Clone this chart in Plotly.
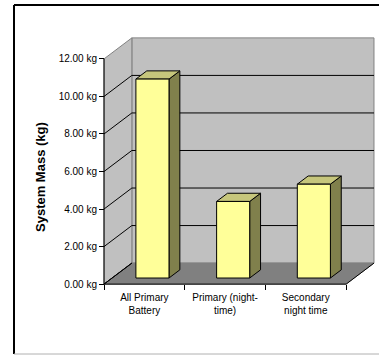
import plotly.graph_objects as go

# ---- data -------------------------------------------------------------
categories = ["All Primary<br>Battery", "Primary (night-<br>time)", "Secondary<br>night time"]
mass_kg = [10.6, 4.08, 5.0]
ytick_vals = [0, 2, 4, 6, 8, 10, 12]
ytick_text = [f"{v:.2f} kg" for v in ytick_vals]

# ---- 3D box geometry (in axis units) ----------------------------------
DX, DY = 0.345, 1.12          # depth of the chart box
BAR_W = 0.41                  # bar width
Z0, Z1 = 0.29, 0.68           # bar front / back as fraction of depth
Y_TOP = ytick_vals[-1]
X0, X1 = -0.5, len(categories) - 0.5

XR = [X0 - 0.025, X1 + DX + 0.025]
YR = [-0.1, Y_TOP + DY + 0.1]

WALL = "#C0C0C0"
WALL_EDGE = "#808080"
FLOOR = "#808080"
BAR_FRONT = "#FFFF99"
BAR_TOP = "#C6C67C"
BAR_SIDE = "#80804C"

FONT = "Liberation Sans, Arial, sans-serif"

W, H = 379, 356
L, R, T, B = 102, 3, 36, 70
PW, PH = W - L - R, H - T - B


def poly(xs, ys, fill, edge, width=1):
    return go.Scatter(x=xs + [xs[0]], y=ys + [ys[0]], mode="lines", fill="toself",
                      fillcolor=fill, line=dict(color=edge, width=width),
                      hoverinfo="skip", showlegend=False)


def seg(xs, ys, color="black", width=1):
    return go.Scatter(x=xs, y=ys, mode="lines", line=dict(color=color, width=width),
                      hoverinfo="skip", showlegend=False)


fig = go.Figure()

# walls and floor
fig.add_trace(poly([X0 + DX, X1 + DX, X1 + DX, X0 + DX], [DY, DY, Y_TOP + DY, Y_TOP + DY], WALL, WALL_EDGE))
fig.add_trace(poly([X0, X0 + DX, X0 + DX, X0], [0, DY, Y_TOP + DY, Y_TOP], WALL, WALL_EDGE))
fig.add_trace(poly([X0, X1, X1 + DX, X0 + DX], [0, 0, DY, DY], FLOOR, FLOOR))

# gridlines on the side and back walls
for v in ytick_vals[:-1]:
    fig.add_trace(seg([X0, X0 + DX], [v, v + DY]))
    if v > 0:
        fig.add_trace(seg([X0 + DX, X1 + DX], [v + DY, v + DY]))

# floor front and right edges, value axis line
fig.add_trace(seg([X0 + DX, X0, X1, X1 + DX], [DY, 0, 0, DY]))
fig.add_trace(seg([X0, X0], [0, Y_TOP]))

# bars
for i, v in enumerate(mass_kg):
    xl, xr = i - BAR_W / 2, i + BAR_W / 2
    fx, fy = Z0 * DX, Z0 * DY
    bx, by = Z1 * DX, Z1 * DY
    fig.add_trace(poly([xr + fx, xr + bx, xr + bx, xr + fx], [fy, by, v + by, v + fy], BAR_SIDE, "black"))
    fig.add_trace(poly([xl + fx, xr + fx, xr + bx, xl + bx], [v + fy, v + fy, v + by, v + by], BAR_TOP, "black"))
    fig.add_trace(poly([xl + fx, xr + fx, xr + fx, xl + fx], [fy, fy, v + fy, v + fy], BAR_FRONT, "black"))


def px(xp):
    return (xp - L) / PW


def py(yp):
    return (H - B - yp) / PH


fig.update_layout(
    width=W, height=H,
    margin=dict(l=L, r=R, t=T, b=B, pad=0),
    paper_bgcolor="white", plot_bgcolor="white",
    font=dict(family=FONT, size=10, color="black"),
    showlegend=False,
    xaxis=dict(
        range=XR, showgrid=False, zeroline=False, showline=False,
        anchor="free", position=(0 - YR[0]) / (YR[1] - YR[0]),
        tickmode="array", tickvals=list(range(len(categories))), ticktext=categories,
        ticks="", ticklabelstandoff=6, tickfont=dict(size=10, family=FONT),
        minor=dict(tickmode="array", tickvals=[X0 + k for k in range(len(categories) + 1)],
                   ticks="outside", ticklen=5, tickwidth=1, tickcolor="black", showgrid=False),
        fixedrange=True,
    ),
    yaxis=dict(
        range=YR, showgrid=False, zeroline=False, showline=False,
        anchor="free", position=(X0 - XR[0]) / (XR[1] - XR[0]),
        tickmode="array", tickvals=ytick_vals, ticktext=ytick_text,
        ticks="outside", ticklen=5, tickwidth=1, tickcolor="black",
        tickfont=dict(size=10, family=FONT),
        fixedrange=True,
    ),
    annotations=[dict(
        text="<b>System Mass (kg)</b>", textangle=-90,
        xref="paper", yref="paper", x=px(40), y=py(177),
        xanchor="center", yanchor="middle", showarrow=False,
        font=dict(size=13, family=FONT, color="black"),
    )],
    shapes=[
        dict(type="line", xref="paper", yref="paper", x0=px(14), x1=px(380), y0=py(5), y1=py(5),
             line=dict(color="black", width=2)),
        dict(type="line", xref="paper", yref="paper", x0=px(14), x1=px(14), y0=py(5), y1=py(354),
             line=dict(color="black", width=2)),
        dict(type="line", xref="paper", yref="paper", x0=px(14), x1=px(380), y0=py(354), y1=py(354),
             line=dict(color="#B0B0B0", width=1)),
    ],
)

fig.write_html("out.html", config={"displayModeBar": False})
